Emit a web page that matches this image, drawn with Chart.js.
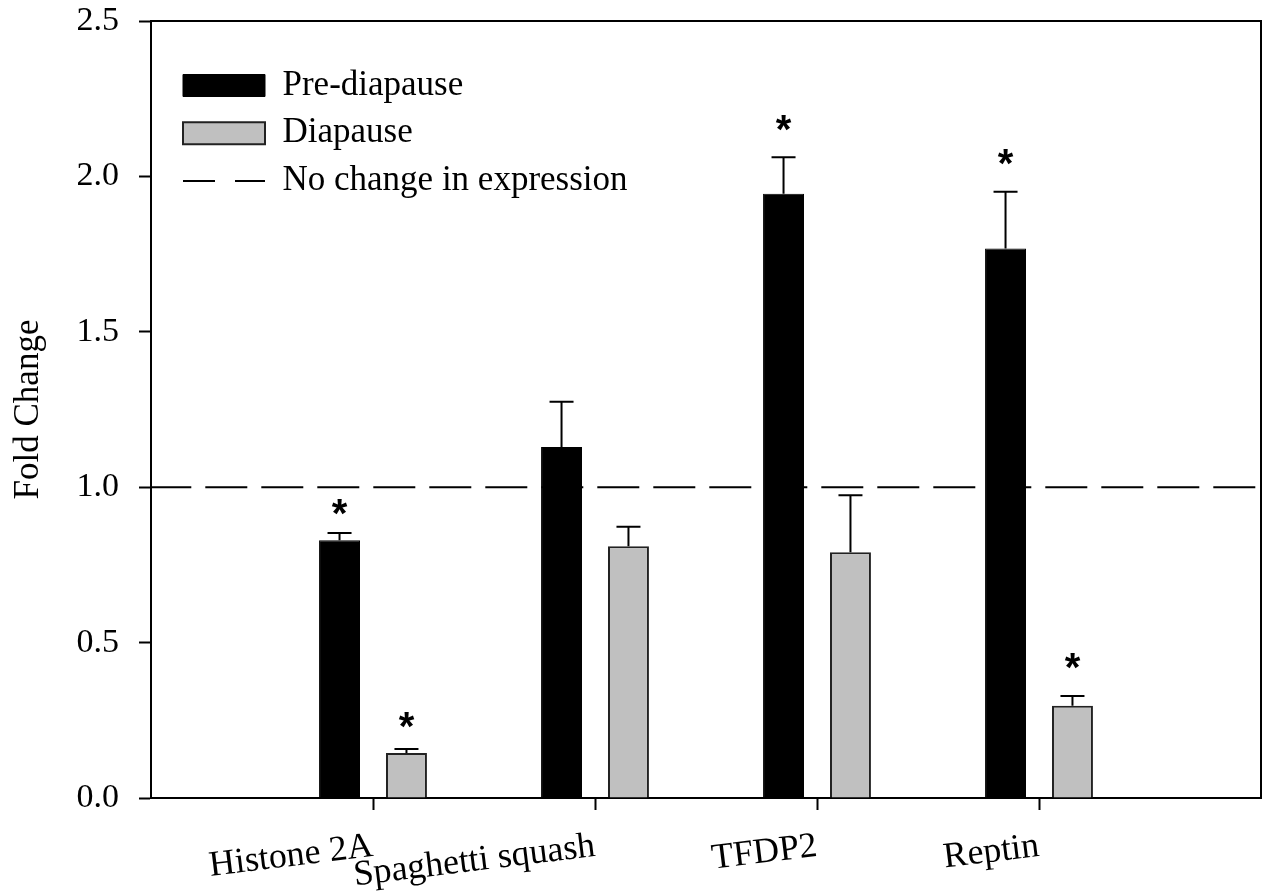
<!DOCTYPE html>
<html lang="en">
<head>
    <meta charset="UTF-8">
    <title>Fold Change</title>
    <script src="https://cdn.jsdelivr.net/npm/chart.js"></script>
    <style>
        body { margin: 0; background: white; }
        .chart-box { width: 1262px; height: 894px; }
    </style>
</head>
<body>
    <div class="chart-box">
        <canvas id="foldChart"></canvas>
    </div>

    <script>
        // values
        const genes = ["Histone 2A", "Spaghetti squash", "TFDP2", "Reptin"];
        const preDiapause = [0.829, 1.129, 1.944, 1.768];
        const preDiapauseErr = [0.024, 0.146, 0.118, 0.183];
        const diapause = [0.145, 0.810, 0.791, 0.297];
        const diapauseErr = [0.013, 0.063, 0.183, 0.031];
        // where the significance stars sit (fold change units), null = no star
        const preStars = [0.931, null, 2.166, 2.056];
        const diaStars = [0.245, null, null, 0.434];
        const noChange = 1.0;
        const yTicks = [0.0, 0.5, 1.0, 1.5, 2.0, 2.5];

        // empty slot on each side so the genes sit at 1..4 of a 0..5 axis
        const labels = ["", ...genes, ""];
        const pad = arr => [null, ...arr, null];

        const serif = "'Liberation Serif', 'Times New Roman', serif";

        // error bars (upper only) and stars, drawn with the chart's own scales
        const errorBars = {
            id: "errorBars",
            afterDatasetsDraw(chart) {
                const ctx = chart.ctx;
                const y = chart.scales.y;
                const sets = [[preDiapause, preDiapauseErr, preStars], [diapause, diapauseErr, diaStars]];
                ctx.save();
                ctx.strokeStyle = "#000";
                ctx.lineWidth = 2;
                ctx.fillStyle = "#000";
                ctx.font = "bold 40px 'Liberation Sans', Arial, sans-serif";
                ctx.textAlign = "center";
                ctx.textBaseline = "middle";
                sets.forEach(([vals, errs, stars], i) => {
                    const meta = chart.getDatasetMeta(i);
                    vals.forEach((v, j) => {
                        const bar = meta.data[j + 1];
                        const top = y.getPixelForValue(v + errs[j]);
                        ctx.beginPath();
                        ctx.moveTo(bar.x, bar.y);
                        ctx.lineTo(bar.x, top);
                        ctx.moveTo(bar.x - 12, top);
                        ctx.lineTo(bar.x + 12, top);
                        ctx.stroke();
                        if (stars[j] !== null) {
                            ctx.fillText("*", bar.x, y.getPixelForValue(stars[j]) + 7);
                        }
                    });
                });
                ctx.restore();
            }
        };

        // box around the plot area
        const frame = {
            id: "frame",
            afterDraw(chart) {
                const a = chart.chartArea;
                const ctx = chart.ctx;
                ctx.save();
                ctx.strokeStyle = "#000";
                ctx.lineWidth = 2;
                ctx.beginPath();
                ctx.moveTo(a.left, a.top);
                ctx.lineTo(a.right, a.top);
                ctx.lineTo(a.right, a.bottom);
                ctx.stroke();
                ctx.restore();
            }
        };

        // move the in-plot legend to its spot in the upper left
        const legendSpot = {
            id: "legendSpot",
            afterLayout(chart) {
                const lg = chart.legend;
                const p = lg.options.labels.padding;
                lg.left = 183 - p;
                lg.top = 68 - p;
                lg.bottom = lg.top + 400;
            }
        };

        new Chart(document.getElementById("foldChart"), {
            type: "bar",
            data: {
                labels: labels,
                datasets: [{
                    label: "Pre-diapause",
                    data: pad(preDiapause),
                    backgroundColor: "#000",
                    borderColor: "#000",
                    borderWidth: 1,
                    categoryPercentage: 0.603,
                    barPercentage: 0.612,
                    order: 1
                }, {
                    label: "Diapause",
                    data: pad(diapause),
                    backgroundColor: "#c0c0c0",
                    borderColor: "#222",
                    borderWidth: 2,
                    categoryPercentage: 0.603,
                    barPercentage: 0.612,
                    order: 2
                }, {
                    type: "line",
                    label: "No change in expression",
                    data: labels.map(() => noChange),
                    borderColor: "#000",
                    borderWidth: 2,
                    borderDash: [42, 14],
                    borderDashOffset: 1.7,
                    pointRadius: 0,
                    pointHoverRadius: 0,
                    fill: false,
                    order: 3
                }]
            },
            options: {
                responsive: true,
                maintainAspectRatio: false,
                animation: false,
                layout: { padding: { top: 0, right: 1, left: 0, bottom: 0 } },
                plugins: {
                    tooltip: { enabled: false },
                    legend: {
                        position: "chartArea",
                        fullSize: false,
                        align: "start",
                        labels: {
                            color: "#000",
                            font: { family: serif, size: 35 },
                            usePointStyle: true,
                            pointStyleWidth: 82,
                            boxHeight: 22,
                            padding: 12.75,
                            generateLabels: () => [
                                { text: "Pre-diapause", fillStyle: "#000", strokeStyle: "#000", lineWidth: 1, pointStyle: "rect", datasetIndex: 0 },
                                { text: "Diapause", fillStyle: "#c0c0c0", strokeStyle: "#222", lineWidth: 2, pointStyle: "rect", datasetIndex: 1 },
                                { text: "No change in expression", fillStyle: "rgba(0,0,0,0)", strokeStyle: "#000", lineWidth: 2, lineDash: [32, 20], pointStyle: "line", datasetIndex: 2 }
                            ]
                        }
                    }
                },
                scales: {
                    x: {
                        offset: false,
                        grid: { offset: false, drawOnChartArea: false, tickLength: 12, tickWidth: 2, tickColor: "#000" },
                        border: { color: "#000", width: 2 },
                        ticks: {
                            color: "#000",
                            font: { family: serif, size: 36 },
                            minRotation: 7,
                            maxRotation: 7,
                            autoSkip: false,
                            padding: 15
                        },
                        afterBuildTicks: scale => {
                            scale.ticks = scale.ticks.filter(t => t.value >= 1 && t.value <= genes.length);
                        },
                        afterFit: scale => { scale.height = 96; }
                    },
                    y: {
                        min: yTicks[0],
                        max: yTicks[yTicks.length - 1],
                        grid: { drawOnChartArea: false, tickLength: 12, tickWidth: 2, tickColor: "#000" },
                        border: { color: "#000", width: 2 },
                        afterBuildTicks: scale => {
                            scale.ticks = yTicks.map(v => ({ value: v }));
                        },
                        ticks: {
                            color: "#000",
                            font: { family: serif, size: 34 },
                            padding: 20,
                            callback: v => v.toFixed(1)
                        },
                        title: {
                            display: true,
                            text: "Fold Change",
                            color: "#000",
                            font: { family: serif, size: 35 },
                            padding: { top: 8, bottom: 0 }
                        },
                        afterFit: scale => {
                            scale.width = 151;
                            scale.paddingTop = 21;
                            scale.paddingBottom = 0;
                        }
                    }
                }
            },
            plugins: [errorBars, frame, legendSpot]
        });
    </script>
</body>
</html>
